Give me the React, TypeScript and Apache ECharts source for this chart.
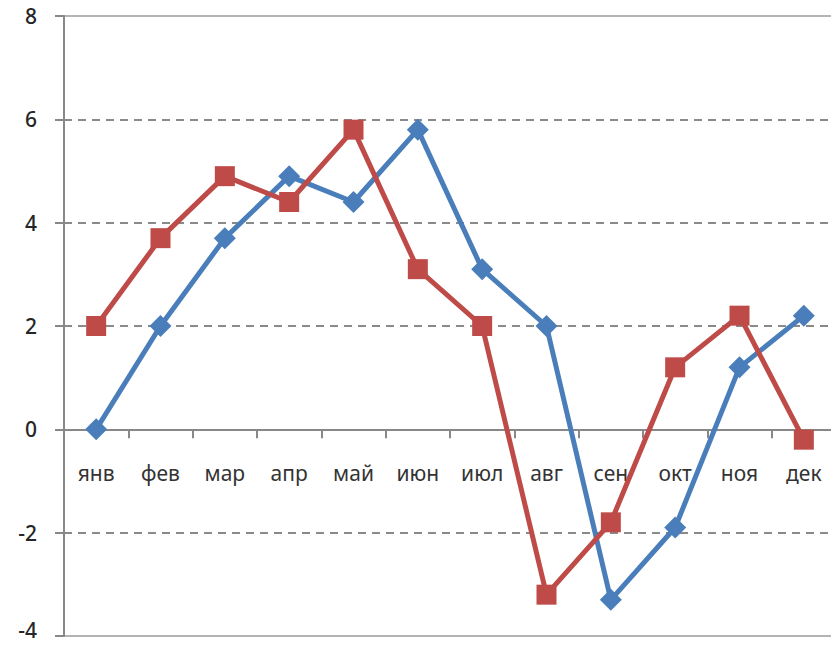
import React, { useEffect, useRef } from "react";
import * as echarts from "echarts";

const months = ["янв", "фев", "мар", "апр", "май", "июн", "июл", "авг", "сен", "окт", "ноя", "дек"];
const blueSeries = [0, 2.0, 3.7, 4.9, 4.4, 5.8, 3.1, 2.0, -3.3, -1.9, 1.2, 2.2];
const redSeries = [2.0, 3.7, 4.9, 4.4, 5.8, 3.1, 2.0, -3.2, -1.8, 1.2, 2.2, -0.2];
const yMin = -4;
const yMax = 8;
const yStep = 2;

export default function App() {
  const ref = useRef<HTMLDivElement>(null);
  useEffect(() => {
    document.body.style.margin = "0";
    const chart = echarts.init(ref.current!, undefined, { renderer: "svg" });
    const font = "'Noto Sans', 'Open Sans', sans-serif";
    const gridTop = 16;
    const gridHeight = 620;
    const zeroOffset = (gridHeight * (0 - yMin)) / (yMax - yMin);
    const splitColors: string[] = [];
    for (let v = yMin; v <= yMax; v += yStep) {
      splitColors.push(v === yMin || v === yMax ? "rgba(0,0,0,0)" : "#8a8a8a");
    }
    chart.setOption({
      animation: false,
      backgroundColor: "#ffffff",
      grid: {
        left: 64,
        top: gridTop,
        width: 772,
        height: gridHeight,
        outerBoundsMode: "none",
        containLabel: false,
        show: true,
        borderColor: "#b4b4b4",
        borderWidth: 2,
      },
      xAxis: {
        type: "category",
        data: months,
        boundaryGap: true,
        position: "bottom",
        offset: -zeroOffset,
        axisLine: { show: true, onZero: false, lineStyle: { color: "#888888", width: 2 } },
        axisTick: { show: true, alignWithLabel: false, length: 9, lineStyle: { color: "#888888", width: 2 } },
        axisLabel: { margin: 33, color: "#333333", fontSize: 21, fontFamily: font },
        splitLine: { show: false },
      },
      yAxis: {
        type: "value",
        min: yMin,
        max: yMax,
        interval: yStep,
        axisLine: { show: true, onZero: false, lineStyle: { color: "#888888", width: 2 } },
        axisTick: { show: true, length: 9, lineStyle: { color: "#888888", width: 2 } },
        axisLabel: {
          margin: 27,
          color: "#262626",
          fontSize: 21,
          fontFamily: font,
          fontWeight: 500,
          formatter: (v: number) => (v === yMin ? `{low|${v}}` : `${v}`),
          rich: {
            low: {
              fontSize: 21,
              fontFamily: font,
              fontWeight: 500,
              color: "#262626",
              lineHeight: 21,
              padding: [0, 0, 12, 0],
            },
          },
        },
        splitLine: { show: true, lineStyle: { color: splitColors, width: 2, type: [8, 6] } },
      },
      series: [
        {
          name: "blue",
          type: "line",
          data: blueSeries,
          symbol: "diamond",
          symbolSize: 22,
          lineStyle: { color: "#4a7ebb", width: 5 },
          itemStyle: { color: "#4a7ebb" },
          z: 3,
        },
        {
          name: "red",
          type: "line",
          data: redSeries,
          symbol: "rect",
          symbolSize: 20,
          lineStyle: { color: "#be4b48", width: 5 },
          itemStyle: { color: "#be4b48" },
          z: 4,
        },
      ],
    });
    return () => chart.dispose();
  }, []);
  return <div ref={ref} style={{ width: 831, height: 647 }} />;
}
